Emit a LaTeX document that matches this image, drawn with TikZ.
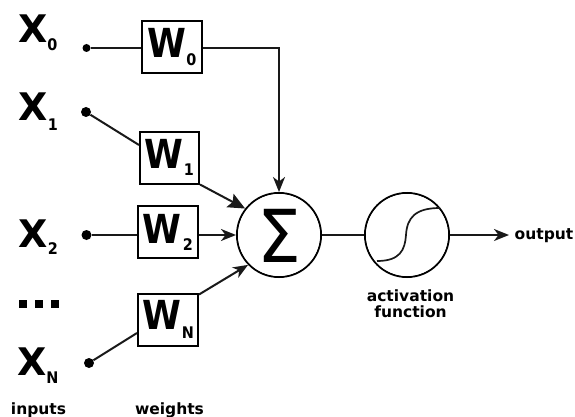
\documentclass[tikz,border=0pt]{standalone}
\usepackage{fontspec}
\setmainfont{DejaVu Sans}
\usetikzlibrary{arrows.meta,calc}
\tikzset{
  wire/.style={line width=2pt,black!90},
  arr/.style={wire,-{Stealth[length=15pt,width=12pt,inset=4.5pt]}},
  arrbig/.style={wire,-{Stealth[length=17pt,width=15pt,inset=3pt]}},
  wbox/.style={draw,line width=2pt,fill=white,minimum width=59pt,minimum height=52pt,inner sep=0pt},
  circ/.style={circle,draw,line width=2pt,minimum size=84pt,inner sep=0pt},
  dotn/.style={circle,fill=black,inner sep=0pt,minimum size=#1},
  xl/.style={font=\fontsize{38}{38}\bfseries,inner sep=0pt,anchor=base},
  wl/.style={font=\fontsize{40}{40}\bfseries,inner sep=0pt,anchor=base,xscale=0.88},
  sub/.style={font=\fontsize{16}{16}\bfseries,inner sep=0pt,anchor=base,xscale=0.9},
  lab/.style={font=\fontsize{15.5}{15.5}\bfseries,inner sep=0pt,anchor=base},
  sq/.style={fill=black,inner sep=0pt,minimum size=8pt}
}
\begin{document}
\begin{tikzpicture}[x=1pt,y=-1pt]
\useasboundingbox (0,0) rectangle (575,417);
% boxes and circles
\node[wbox,minimum width=60pt] (w0) at (172,47) {};
\node[wbox] (w1) at (169.5,157.5) {};
\node[wbox,minimum width=60pt] (w2) at (168,231.5) {};
\node[wbox,minimum width=60pt] (wn) at (168,319.5) {};
\node[circ] (sum) at (279,235) {};
\node[circ] (act) at (407,235) {};
% input dots
\node[dotn=8pt] (d0) at (86.5,48) {};
\node[dotn=10pt] (d1) at (86,112) {};
\node[dotn=10pt] (d2) at (86.5,235) {};
\node[dotn=10pt] (dn) at (89,363) {};
\coordinate (o) at (509,235);
% connectors
\draw[wire] (d0) -- (d0 -| w0.west);
\draw[arr] (w0.east |- d0) -| (sum.north);
\draw[wire] (d1) -- ([yshift=12.5pt]w1.west);
\draw[arrbig] (w1.south east) -- (sum.142);
\draw[wire] (d2) -- (d2 -| w2.west);
\draw[arr] (d2 -| w2.east) -- (sum.west);
\draw[wire] (dn) -- ([yshift=-13.5pt]wn.west);
\draw[arr] ([yshift=-2pt]wn.north east) -- (sum.224);
\draw[wire] (sum) -- (act);
\draw[arr] (act) -- (o);
% redraw interiors
\fill[white] (sum.center) circle (41pt) (act.center) circle (41pt);
\draw[line width=1.7pt,black!90] (377,261) .. controls (400,261) and (405,250) .. (406,235) .. controls (407,218) and (415,208) .. (440,208);
% sigma
\node[inner sep=0pt,anchor=base,font=\fontsize{73}{73}\selectfont,xscale=0.95] (sg) at (279,262) {Σ};
% labels
\node[xl] (x0) at (33.5,43) {X};
\node[sub] (x0s) at (52.5,51) {0};
\node[xl] (x1) at (33.5,121) {X};
\node[sub] (x1s) at (53,130) {1};
\node[xl] (x2) at (33.5,247) {X};
\node[sub] (x2s) at (53,254) {2};
\node[xl] (xn) at (32.5,375) {X};
\node[sub] (xns) at (52.5,383) {N};
\node[wl] (t0) at (166.5,58) {W};
\node[sub] (t0s) at (191.5,66) {0};
\node[wl] (t1) at (164,168) {W};
\node[sub] (t1s) at (189,175) {1};
\node[wl] (t2) at (162,243) {W};
\node[sub] (t2s) at (188,250) {2};
\node[wl] (tn) at (162,329) {W};
\node[sub] (tns) at (188,338) {N};
\node[sq] (s1) at (23,304) {};
\node[sq] (s2) at (38.5,304) {};
\node[sq] (s3) at (54.5,304) {};
\node[lab] (inp) at (38.5,414) {inputs};
\node[lab] (wei) at (169.5,414) {weights};
\node[lab] (ac1) at (410.5,301) {activation};
\node[lab] (ac2) at (410.5,317) {function};
\node[lab,anchor=base west] (out) at (514.5,239) {output};
\end{tikzpicture}
\end{document}
